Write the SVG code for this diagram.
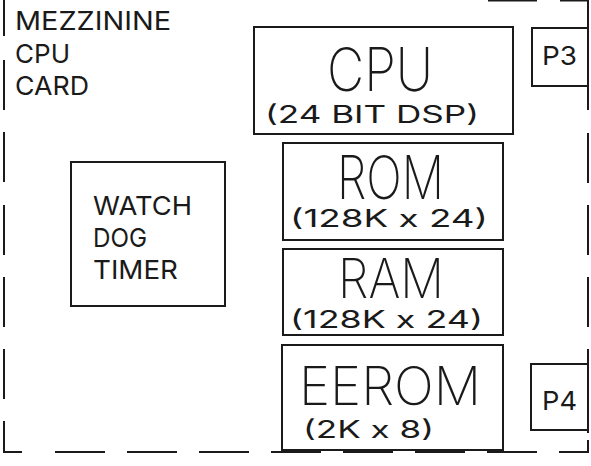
<svg xmlns="http://www.w3.org/2000/svg" width="591" height="466" viewBox="0 0 591 466">
<style>
.bx{fill:none;stroke:#1a1a1a;stroke-width:2}
.br{fill:none;stroke:#1a1a1a;stroke-width:2}
text{fill:#1a1a1a;font-family:"Inter","Liberation Sans",sans-serif}
.sm{font-size:26px;font-weight:400}
.md{font-size:24px;font-weight:400}
.lg{font-size:60px;font-weight:200}
</style>
<rect width="591" height="466" fill="#ffffff"/>
<g id="border">
<path class="br" d="M4 0V36M4 60V110M4 132V182M4 205V255M4 277V327M4 349V399M4 421V452H22M55 452H105M127 452H177M199 452H249M271 452H321M343 452H393M415 452H465M487 452H537M559 452H588V440M588 433V349M588 327V277M588 255V205M588 183V133M588 110V0M560 0.5H588M488 0.5H537"/>
<text class="sm" x="15" y="30" textLength="156" lengthAdjust="spacingAndGlyphs">MEZZININE</text>
<text class="sm" x="15" y="63" textLength="55" lengthAdjust="spacingAndGlyphs">CPU</text>
<text class="sm" x="15" y="95" textLength="74" lengthAdjust="spacingAndGlyphs">CARD</text>
</g>
<g id="cpu">
<rect class="bx" x="254" y="27" width="259" height="107"/>
<text class="lg" x="327" y="91" textLength="106" lengthAdjust="spacingAndGlyphs">CPU</text>
<text class="md" x="265" y="123" textLength="214" lengthAdjust="spacingAndGlyphs">(24 BIT DSP)</text>
</g>
<g id="p3">
<rect class="bx" x="532" y="28" width="56" height="58"/>
<text class="sm" x="542" y="65" textLength="35" lengthAdjust="spacingAndGlyphs">P3</text>
</g>
<g id="rom">
<rect class="bx" x="283" y="143" width="220" height="97"/>
<text class="lg" x="337" y="199" textLength="107" lengthAdjust="spacingAndGlyphs">ROM</text>
<text class="md" x="290" y="227" textLength="198" lengthAdjust="spacingAndGlyphs">(128K x 24)</text>
</g>
<g id="ram">
<rect class="bx" x="283" y="249" width="220" height="86"/>
<text class="lg" x="338" y="298" textLength="106" lengthAdjust="spacingAndGlyphs" style="font-size:55px">RAM</text>
<text class="md" x="290" y="328" textLength="193" lengthAdjust="spacingAndGlyphs">(128K x 24)</text>
</g>
<g id="eerom">
<rect class="bx" x="282" y="345" width="221" height="105"/>
<text class="lg" x="299" y="405" textLength="182" lengthAdjust="spacingAndGlyphs" style="font-size:53px">EEROM</text>
<text class="md" x="303" y="438" textLength="131" lengthAdjust="spacingAndGlyphs">(2K x 8)</text>
</g>
<g id="p4">
<rect class="bx" x="531" y="364" width="57" height="66"/>
<text class="sm" x="542" y="410" textLength="35" lengthAdjust="spacingAndGlyphs">P4</text>
</g>
<g id="watchdog">
<rect class="bx" x="71" y="162" width="154" height="144"/>
<text class="sm" x="93" y="215" textLength="99" lengthAdjust="spacingAndGlyphs">WATCH</text>
<text class="sm" x="93" y="247" textLength="54" lengthAdjust="spacingAndGlyphs">DOG</text>
<text class="sm" x="93" y="279" textLength="85" lengthAdjust="spacingAndGlyphs">TIMER</text>
</g>
<g id="connectors"></g>
</svg>
